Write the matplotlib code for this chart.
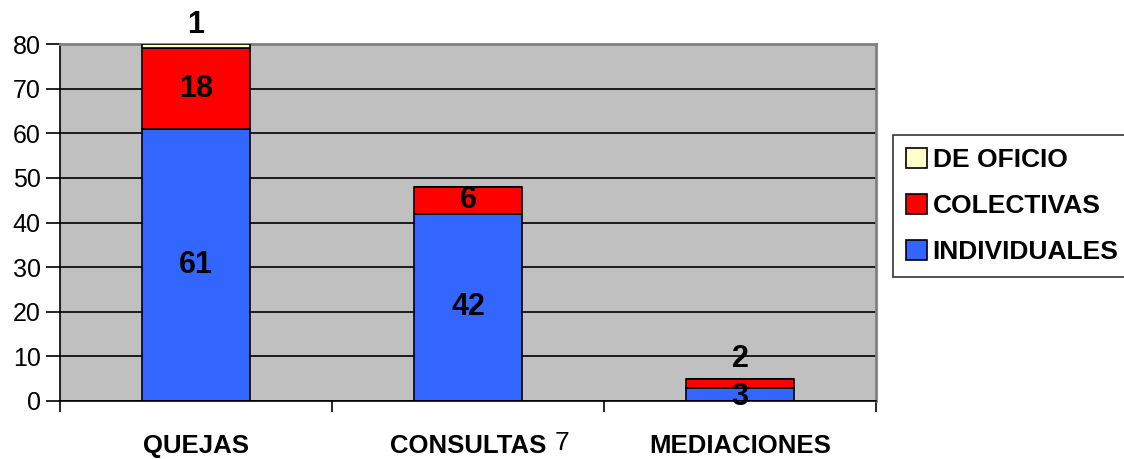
import matplotlib
matplotlib.use("Agg")
import matplotlib.pyplot as plt
import numpy as np
from matplotlib import font_manager

names = {f.name for f in font_manager.fontManager.ttflist}
fam = 'Liberation Sans Narrow' if 'Liberation Sans Narrow' in names else 'Liberation Sans'
plt.rcParams['font.family'] = [fam, 'DejaVu Sans']

categories = ['QUEJAS', 'CONSULTAS', 'MEDIACIONES']
individuales = [61, 42, 3]
colectivas = [18, 6, 2]
de_oficio = [1, 0, 0]
series_names = ['INDIVIDUALES', 'COLECTIVAS', 'DE OFICIO']
yticks = [0, 10, 20, 30, 40, 50, 60, 70, 80]

c_ind = '#3366FF'
c_col = '#FF0000'
c_ofi = '#FFFFCC'

fig = plt.figure(figsize=(11.24, 4.59), dpi=100)
ax = fig.add_axes([60/1124, 1-401/459, (876-60)/1124, (401-44)/459])
ax.set_facecolor('#C0C0C0')

x = np.arange(len(categories))
w = 0.4
ind = np.array(individuales)
col = np.array(colectivas)
ofi = np.array(de_oficio)

b1 = ax.bar(x, ind, w, color=c_ind, edgecolor='black', linewidth=1.2, zorder=3, label=series_names[0])
b2 = ax.bar(x, col, w, bottom=ind, color=c_col, edgecolor='black', linewidth=1.2, zorder=3, label=series_names[1])
b3 = ax.bar(x, ofi, w, bottom=ind+col, color=c_ofi, edgecolor='black', linewidth=1.2, zorder=3, label=series_names[2])

ax.set_xlim(-0.5, 2.5)
ax.set_ylim(0, 80)
ax.set_yticks(yticks)
ax.yaxis.grid(True, color='black', linewidth=1.2, zorder=1)
ax.set_axisbelow(True)

for s in ['top', 'right']:
    ax.spines[s].set_color('#808080')
    ax.spines[s].set_linewidth(2)
for s in ['left', 'bottom']:
    ax.spines[s].set_color('black')
    ax.spines[s].set_linewidth(1.2)
ax.spines['bottom'].set_zorder(4)

ax.tick_params(axis='y', length=10, width=1.2, labelsize=18, pad=4)
ax.set_xticks([-0.5, 0.5, 1.5, 2.5])
ax.set_xticklabels([])
ax.tick_params(axis='x', length=8, width=1.2)
for i, c in enumerate(categories):
    ax.text(i, -10.0, c, ha='center', va='center', fontsize=18.5, fontweight='bold')
ax.text(1.32, -9.4, '7', ha='left', va='center', fontsize=19)

lab_kw = dict(ha='center', va='center', fontsize=22, fontweight='bold', zorder=5)
# segment labels
for i in range(3):
    if ind[i] > 5:
        ax.text(i, ind[i]/2, str(ind[i]), **lab_kw)
    if col[i] > 5:
        ax.text(i, ind[i] + col[i]/2, str(col[i]), **lab_kw)
ax.text(0, ind[0] + col[0] + ofi[0] + 4.3, str(ofi[0]), clip_on=False, **lab_kw)
ax.text(2, ind[2] + col[2] + 4.4, str(col[2]), **lab_kw)
ax.text(2, ind[2] / 2 - 0.5, str(ind[2]), **lab_kw)

handles = [b3, b2, b1]
leg = fig.legend(handles, [series_names[2], series_names[1], series_names[0]],
                 loc='upper left', bbox_to_anchor=(893/1124, 1-135/459),
                 frameon=True, fancybox=False, edgecolor='black',
                 prop={'size': 19, 'weight': 'bold'},
                 handlelength=0.8, handleheight=0.8, handletextpad=0.2,
                 labelspacing=0.82, borderpad=0.5, borderaxespad=0)
leg.get_frame().set_linewidth(1.2)

fig.savefig('out.png', dpi=100)
